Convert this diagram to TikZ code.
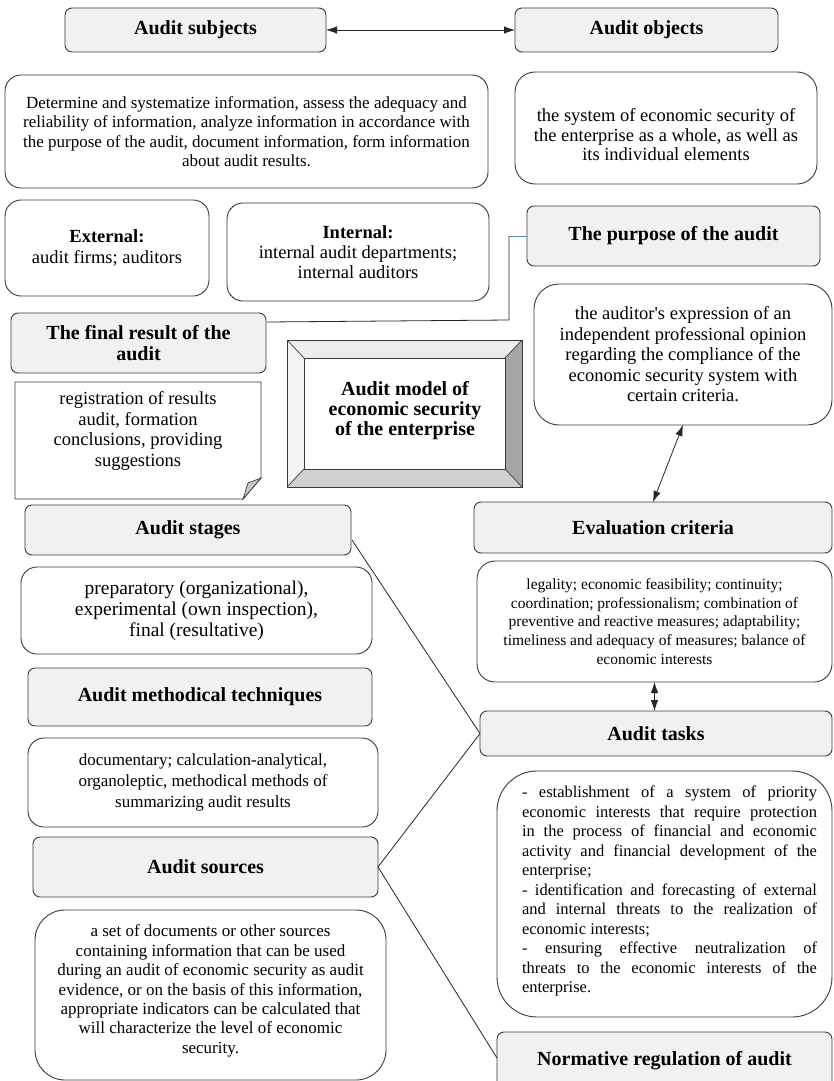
\documentclass[tikz,border=0pt]{standalone}
\usepackage{fontspec}
\setmainfont{Liberation Serif}
\usetikzlibrary{calc,arrows.meta}

\definecolor{bord}{HTML}{3A3A3A}
\definecolor{tfill}{HTML}{F0F1F2}
\definecolor{blueline}{HTML}{5B8BC9}
\definecolor{bevR}{HTML}{A6A6A6}
\definecolor{bevB}{HTML}{D0D0D0}
\definecolor{bevT}{HTML}{EDEDED}
\definecolor{bevL}{HTML}{F5F5F5}
\definecolor{foldc}{HTML}{C8C8C8}

\newcommand\mkbox[7]{\node[#6, minimum width={#4-#2}, minimum height={#5-#3}] (#1) at ({(#2+#4)/2},{(#3+#5)/2}) {#7};}
\newcommand\fs[2]{\fontsize{#1}{#2}\selectfont}

\tikzset{
 every node/.style={inner sep=0pt, outer sep=0pt},
 boxbase/.style={draw=bord, line width=0.9pt},
 titlebox/.style={boxbase, fill=tfill, rounded corners=7pt, font=\bfseries\fs{20}{22}, align=center},
 descbox/.style={boxbase, fill=white, rounded corners=#1, align=center},
 descbox/.default=16pt,
 link/.style={draw=black!85, line width=0.8pt},
 dbl/.style={link, {Latex[length=11pt,width=7.5pt]}-{Latex[length=11pt,width=7.5pt]}},
 bevel/.style={draw=bord, line width=0.7pt},
}

\begin{document}
\begin{tikzpicture}[x=1pt,y=-1pt]
\useasboundingbox (0,0) rectangle (833,1081);
\fill[white] (0,0) rectangle (833,1081);
\clip (0,0) rectangle (833,1081);

% top row
\mkbox{subj}{65}{8}{326}{52}{titlebox}{Audit subjects}
\mkbox{obj}{515}{8}{778}{52}{titlebox}{Audit objects}
\draw[dbl] (subj) -- (obj);

\mkbox{info}{5}{75}{488}{188}{descbox=16pt, font=\fs{17}{19.5}}{Determine and systematize information, assess the adequacy and\\reliability of information, analyze information in accordance with\\the purpose of the audit, document information, form information\\about audit results.}
\mkbox{objd}{515}{72}{817}{184}{descbox=20pt, label={[font=\fs{18.5}{19.5}, align=center, yshift=-7pt]center:{the system of economic security of\\the enterprise as a whole, as well as\\its individual elements}}}{}

\mkbox{ext}{5}{200}{209}{296}{descbox=16pt, font=\fs{18.5}{21}}{\textbf{External:}\\audit firms; auditors}
\mkbox{int}{227}{203}{489}{301}{descbox=16pt, font=\fs{18.5}{20}}{\textbf{Internal:}\\internal audit departments;\\internal auditors}
\mkbox{purp}{527}{206}{820}{266}{titlebox}{The purpose of the audit}

\mkbox{final}{11}{313}{266}{373}{titlebox, font=\bfseries\fs{20}{21}}{The final result of the\\audit}
\mkbox{pdesc}{534}{284}{832}{425}{descbox=25pt, font=\fs{18.5}{20.5}}{the auditor\textquotesingle s expression of an\\independent professional opinion\\regarding the compliance of the\\economic security system with\\certain criteria.}

% purpose connector
\draw[draw=blueline, line width=0.9pt] (purp.west) -- ++(-18,0) coordinate (pcorner);
\draw[link] (pcorner) -- ++(0,84) -- ($(final.north east)+(1,9)$);

% note with folded corner
\draw[boxbase, fill=white] (15,382) -- (261,382) -- (261,478) -- (243,499) -- (15,499) -- cycle;
\draw[boxbase, fill=foldc, line width=0.7pt] (243,499) -- (248,483) -- (261,478) -- cycle;
\node[font=\fs{18.5}{20.5}, align=center] (note) at (138,431) {registration of results\\audit, formation\\conclusions, providing\\suggestions};

% central bevel
\fill[bevT] (287,340) -- (522,340) -- (505,358) -- (304,358) -- cycle;
\fill[bevL] (287,340) -- (304,358) -- (304,469) -- (287,487) -- cycle;
\fill[bevR] (522,340) -- (522,487) -- (505,469) -- (505,358) -- cycle;
\fill[bevB] (287,487) -- (522,487) -- (505,469) -- (304,469) -- cycle;
\draw[bevel] (287,340) rectangle (522,487);
\draw[bevel, fill=white] (304,358) rectangle (505,469);
\draw[bevel] (287,340) -- (304,358) (522,340) -- (505,358) (287,487) -- (304,469) (522,487) -- (505,469);
\node[font=\bfseries\fs{20}{20}, align=center] (model) at (405,411) {Audit model of\\economic security\\of the enterprise};

% right column
\mkbox{evalc}{474}{502}{832}{553}{titlebox}{Evaluation criteria}
\draw[dbl] (pdesc.south) -- (evalc.north);
\mkbox{cdesc}{477}{561}{832}{682}{descbox=18pt, font=\fs{15.5}{18.6}}{legality; economic feasibility; continuity;\\coordination; professionalism; combination of\\preventive and reactive measures; adaptability;\\timeliness and adequacy of measures; balance of\\economic interests}
\mkbox{tasks}{480}{711}{832}{756}{titlebox}{Audit tasks}
\draw[dbl] (cdesc.south) -- (cdesc.south |- tasks.north);
\mkbox{tdesc}{497}{771}{832}{1017}{descbox=40pt, label={[font=\fs{16.5}{19.5}, align=left, xshift=5pt, yshift=3pt]center:{%
\makebox[295pt][s]{- establishment of a system of priority}\\
\makebox[295pt][s]{economic interests that require protection}\\
\makebox[295pt][s]{in the process of financial and economic}\\
\makebox[295pt][s]{activity and financial development of the}\\
enterprise;\\
\makebox[295pt][s]{- identification and forecasting of external}\\
\makebox[295pt][s]{and internal threats to the realization of}\\
economic interests;\\
\makebox[295pt][s]{- ensuring effective neutralization of}\\
\makebox[295pt][s]{threats to the economic interests of the}\\
enterprise.}}}{}
\mkbox{norm}{497}{1032}{832}{1090}{titlebox}{Normative regulation of audit}

% left column
\mkbox{stages}{25}{505}{351}{555}{titlebox}{Audit stages}
\mkbox{sdesc}{21}{567}{372}{654}{descbox=16pt, font=\fs{19.5}{21}}{preparatory (organizational),\\experimental (own inspection),\\final (resultative)}
\mkbox{tech}{28}{668}{372}{726}{titlebox}{Audit methodical techniques}
\mkbox{tedesc}{28}{738}{378}{827}{descbox=16pt, font=\fs{17}{21}}{documentary; calculation-analytical,\\organoleptic, methodical methods of\\summarizing audit results}
\mkbox{src}{33}{837}{378}{897}{titlebox}{Audit sources}
\mkbox{srcd}{35}{910}{386}{1080}{descbox=30pt, label={[font=\fs{17}{19.4}, align=center, yshift=4pt]center:{a set of documents or other sources\\containing information that can be used\\during an audit of economic security as audit\\evidence, or on the basis of this information,\\appropriate indicators can be calculated that\\will characterize the level of economic\\security.}}}{}

% connectors
\draw[link] ($(stages.north east)+(1,35)$) -- (tasks.west);
\draw[link] (src.east) -- (tasks.west);
\draw[link] (src.east) -- ($(norm.north west)+(0,26)$);
\end{tikzpicture}
\end{document}
